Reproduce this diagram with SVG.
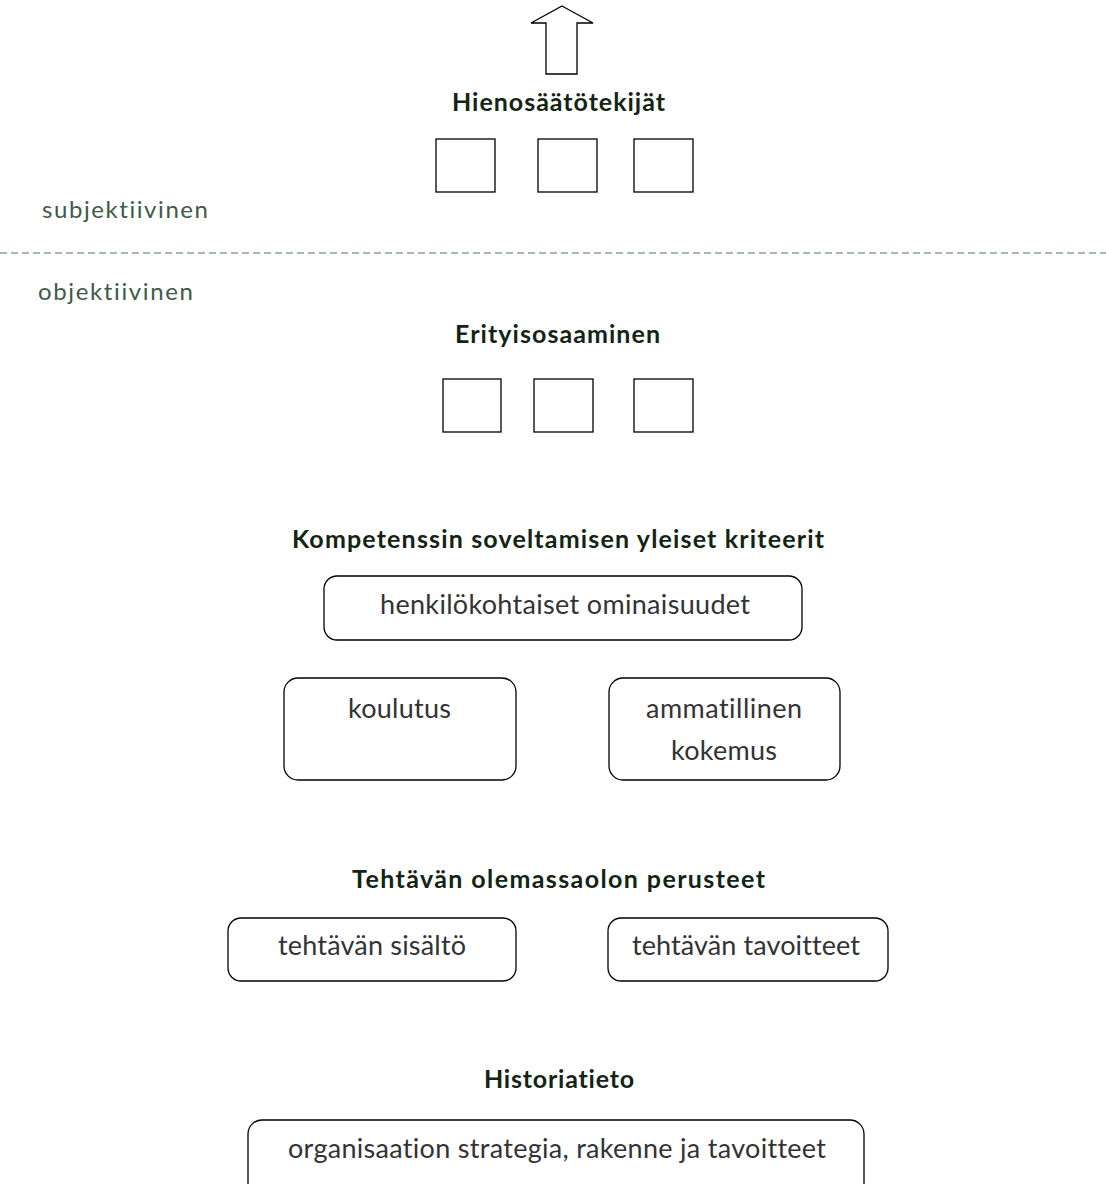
<svg xmlns="http://www.w3.org/2000/svg" width="1106" height="1184" viewBox="0 0 1106 1184">
<style>
  text { font-variant-ligatures: none; font-feature-settings: "liga" 0; }
  .title { font-family: Lato, "Open Sans", sans-serif; font-weight: bold; font-size: 25px; fill: #142414; }
  .label { font-family: Lato, "Open Sans", sans-serif; font-size: 27px; fill: #333333; }
  .side { font-family: Lato, "Open Sans", sans-serif; font-size: 24px; fill: #3e5a48; }
  .sq { fill: #ffffff; stroke: #000000; stroke-width: 1.3; }
  .rbox { fill: #ffffff; stroke: #000000; stroke-width: 1.3; }
</style>
<rect width="1106" height="1184" fill="#ffffff"/>

<g id="connectors">
  <polygon id="arrow-up" points="562,6 593,23 577,23 577,74 546,74 546,23 531,23" fill="#ffffff" stroke="#000000" stroke-width="1.3" stroke-linejoin="miter"/>
  <line id="divider" x1="0" y1="253" x2="1106" y2="253" stroke="#8aa292" stroke-width="1.3" stroke-dasharray="7,4"/>
</g>

<g id="hienosaatotekijat">
  <text class="title" x="452" y="111" textLength="213" lengthAdjust="spacing">Hienosäätötekijät</text>
  <rect class="sq" x="436" y="139" width="59" height="53"/>
  <rect class="sq" x="538" y="139" width="59" height="53"/>
  <rect class="sq" x="634" y="139" width="59" height="53"/>
</g>

<g id="side-labels">
  <text class="side" x="42" y="218" textLength="166" lengthAdjust="spacing">subjektiivinen</text>
  <text class="side" x="38" y="300" textLength="155" lengthAdjust="spacing">objektiivinen</text>
</g>

<g id="erityisosaaminen">
  <text class="title" x="455" y="343" textLength="205" lengthAdjust="spacing">Erityisosaaminen</text>
  <rect class="sq" x="443" y="379" width="58" height="53"/>
  <rect class="sq" x="534" y="379" width="59" height="53"/>
  <rect class="sq" x="634" y="379" width="59" height="53"/>
</g>

<g id="kompetenssi">
  <text class="title" x="292" y="548" textLength="532" lengthAdjust="spacing">Kompetenssin soveltamisen yleiset kriteerit</text>
</g>
<g id="henkilokohtaiset">
  <rect class="rbox" x="324" y="576" width="478" height="64" rx="13"/>
  <text class="label" x="380" y="614" textLength="370" lengthAdjust="spacing">henkilökohtaiset ominaisuudet</text>
</g>
<g id="koulutus">
  <rect class="rbox" x="284" y="678" width="232" height="102" rx="14"/>
  <text class="label" x="348" y="718" textLength="103" lengthAdjust="spacing">koulutus</text>
</g>
<g id="ammatillinen">
  <rect class="rbox" x="609" y="678" width="231" height="102" rx="14"/>
  <text class="label" x="646" y="718" textLength="156" lengthAdjust="spacing">ammatillinen</text>
  <text class="label" x="671" y="760" textLength="106" lengthAdjust="spacing">kokemus</text>
</g>

<g id="tehtavan-perusteet">
  <text class="title" x="352" y="888" textLength="413" lengthAdjust="spacing">Tehtävän olemassaolon perusteet</text>
</g>
<g id="tehtavan-sisalto">
  <rect class="rbox" x="228" y="918" width="288" height="63" rx="13"/>
  <text class="label" x="278" y="955" textLength="188" lengthAdjust="spacing">tehtävän sisältö</text>
</g>
<g id="tehtavan-tavoitteet">
  <rect class="rbox" x="608" y="918" width="280" height="63" rx="13"/>
  <text class="label" x="632" y="955" textLength="228" lengthAdjust="spacing">tehtävän tavoitteet</text>
</g>

<g id="historiatieto">
  <text class="title" x="484" y="1088" textLength="150" lengthAdjust="spacing">Historiatieto</text>
</g>
<g id="organisaation">
  <rect class="rbox" x="248" y="1120" width="616" height="90" rx="14"/>
  <text class="label" x="288" y="1158" textLength="538" lengthAdjust="spacing">organisaation strategia, rakenne ja tavoitteet</text>
</g>
</svg>
